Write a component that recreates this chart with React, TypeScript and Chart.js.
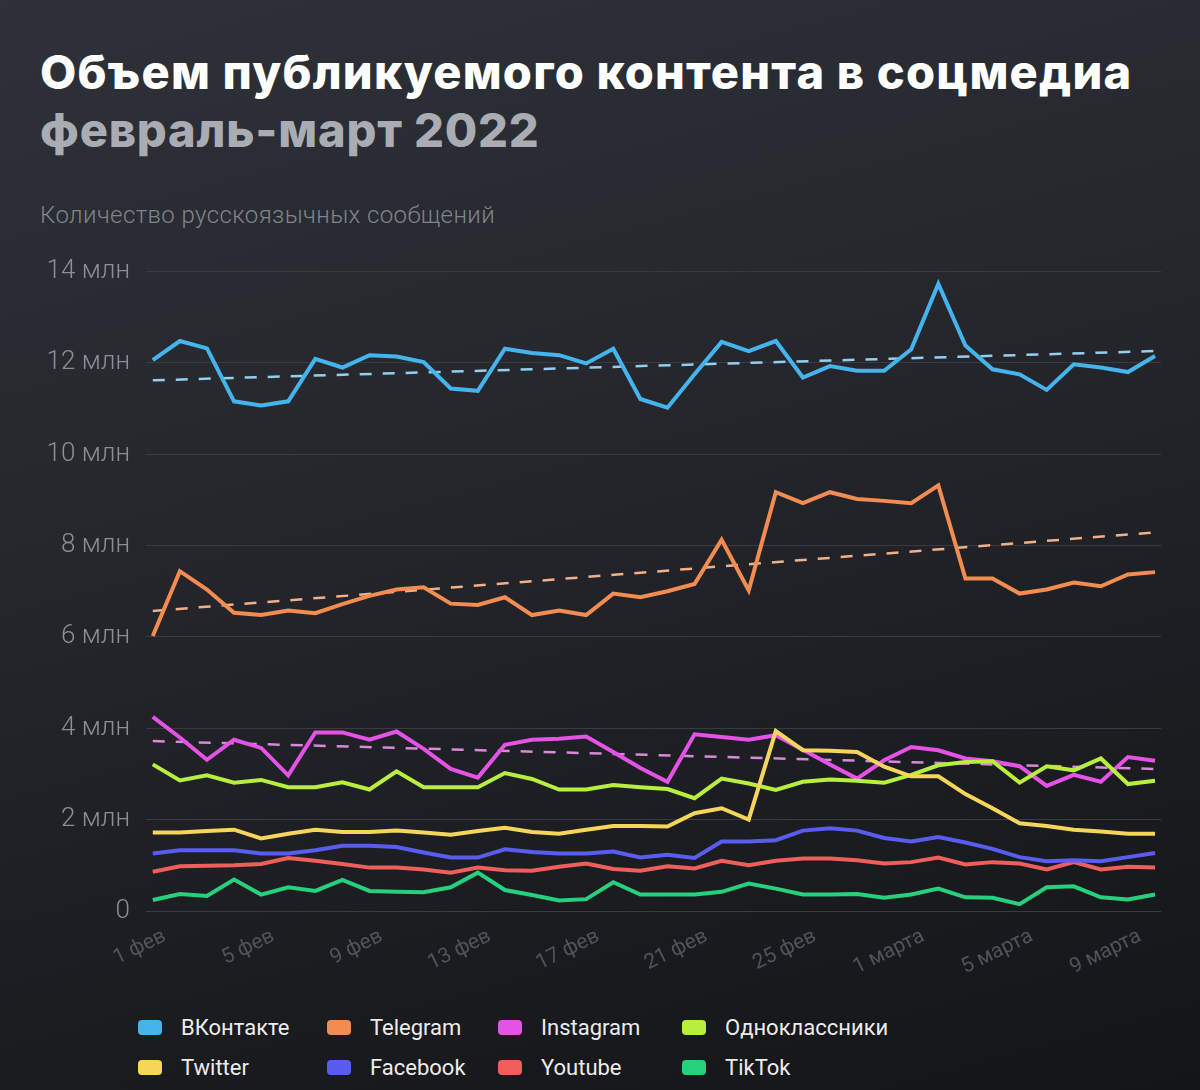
import React, { useEffect, useRef } from "react";
import { Chart, registerables } from "chart.js";

Chart.register(...registerables);

// ---- Data ----
const febDays = Array.from({ length: 28 }, (_, i) => `${i + 1} фев`);
const marDays = Array.from({ length: 10 }, (_, i) => `${i + 1} марта`);
const dateLabels: string[] = [...febDays, ...marDays];
const labelEvery = 4;
const yMax = 14;
const yStep = 2;

const vkontakte = [12.06, 12.48, 12.32, 11.16, 11.07, 11.16, 12.09, 11.9, 12.17, 12.14, 12.02, 11.44, 11.39, 12.31, 12.22, 12.17, 11.99, 12.31, 11.21, 11.02, 11.75, 12.46, 12.26, 12.48, 11.68, 11.93, 11.83, 11.83, 12.3, 13.73, 12.38, 11.86, 11.75, 11.41, 11.97, 11.9, 11.8, 12.15];
const telegram = [6.02, 7.44, 7.04, 6.53, 6.48, 6.58, 6.52, 6.72, 6.9, 7.04, 7.09, 6.73, 6.7, 6.87, 6.48, 6.58, 6.48, 6.95, 6.87, 7.0, 7.16, 8.13, 7.02, 9.17, 8.93, 9.17, 9.02, 8.98, 8.93, 9.32, 7.28, 7.28, 6.95, 7.04, 7.19, 7.11, 7.37, 7.42];
const instagram = [4.25, 3.8, 3.31, 3.75, 3.57, 2.97, 3.91, 3.91, 3.75, 3.93, 3.55, 3.11, 2.92, 3.64, 3.75, 3.77, 3.82, 3.48, 3.13, 2.83, 3.87, 3.81, 3.75, 3.85, 3.53, 3.21, 2.9, 3.3, 3.59, 3.52, 3.34, 3.28, 3.17, 2.74, 2.98, 2.83, 3.37, 3.29];
const odnoklassniki = [3.21, 2.86, 2.97, 2.81, 2.87, 2.71, 2.71, 2.82, 2.66, 3.06, 2.71, 2.71, 2.71, 3.02, 2.89, 2.66, 2.66, 2.76, 2.71, 2.67, 2.47, 2.9, 2.79, 2.65, 2.83, 2.88, 2.85, 2.81, 2.98, 3.19, 3.26, 3.28, 2.81, 3.17, 3.08, 3.34, 2.78, 2.85];
const twitter = [1.72, 1.72, 1.75, 1.78, 1.59, 1.69, 1.78, 1.73, 1.73, 1.76, 1.72, 1.67, 1.75, 1.82, 1.73, 1.69, 1.78, 1.86, 1.86, 1.85, 2.14, 2.25, 2.0, 3.94, 3.52, 3.51, 3.48, 3.16, 2.95, 2.95, 2.56, 2.25, 1.92, 1.86, 1.78, 1.74, 1.69, 1.69];
const facebook = [1.26, 1.33, 1.33, 1.33, 1.26, 1.26, 1.33, 1.43, 1.43, 1.4, 1.28, 1.17, 1.17, 1.35, 1.29, 1.26, 1.26, 1.3, 1.17, 1.23, 1.16, 1.52, 1.52, 1.55, 1.76, 1.81, 1.76, 1.6, 1.52, 1.62, 1.5, 1.36, 1.18, 1.09, 1.11, 1.09, 1.18, 1.27];
const youtube = [0.86, 0.98, 0.99, 1.0, 1.03, 1.16, 1.1, 1.03, 0.95, 0.95, 0.91, 0.84, 0.95, 0.89, 0.88, 0.97, 1.04, 0.92, 0.88, 0.98, 0.93, 1.1, 1.0, 1.1, 1.15, 1.15, 1.11, 1.04, 1.07, 1.17, 1.02, 1.07, 1.04, 0.91, 1.07, 0.91, 0.97, 0.95];
const tiktok = [0.24, 0.37, 0.33, 0.69, 0.36, 0.52, 0.44, 0.68, 0.44, 0.42, 0.41, 0.52, 0.84, 0.46, 0.35, 0.23, 0.26, 0.63, 0.36, 0.36, 0.36, 0.42, 0.6, 0.49, 0.36, 0.36, 0.37, 0.29, 0.36, 0.49, 0.3, 0.29, 0.15, 0.52, 0.54, 0.3, 0.25, 0.36];

// trend lines: [value at first day, value at last day]
const vkontakteTrend = [11.62, 12.26];
const telegramTrend = [6.57, 8.29];
const instagramTrend = [3.72, 3.11];

const seriesNames = ["ВКонтакте", "Telegram", "Instagram", "Одноклассники", "Twitter", "Facebook", "Youtube", "TikTok"];
const seriesColors = ["#45b4ec", "#f28c50", "#e452e6", "#b8ef3e", "#f6d65a", "#5a5cf0", "#ee5f5c", "#26d07c"];
const seriesValues = [vkontakte, telegram, instagram, odnoklassniki, twitter, facebook, youtube, tiktok];
const seriesOrder = [2, 2, 3, 2, 1, 2, 3, 2];

const trendColors = ["#93cfee", "#f1b088", "#d68ad8"];
const trendValues = [vkontakteTrend, telegramTrend, instagramTrend];

const FONT = "Roboto, 'Noto Sans', sans-serif";

export default function App() {
  const canvasRef = useRef<HTMLCanvasElement | null>(null);

  useEffect(() => {
    if (!canvasRef.current) return;
    const last = dateLabels.length - 1;
    const lineSets = seriesValues.map((vals, s) => ({
      label: seriesNames[s],
      data: vals.map((v, i) => ({ x: i, y: v })),
      borderColor: seriesColors[s],
      backgroundColor: seriesColors[s],
      borderWidth: 4,
      pointRadius: 0,
      tension: 0,
      fill: false,
      order: seriesOrder[s],
    }));
    const trendSets = trendValues.map((t, k) => ({
      label: seriesNames[k] + " тренд",
      data: [
        { x: 0, y: t[0] },
        { x: last, y: t[1] },
      ],
      borderColor: trendColors[k],
      borderWidth: 2.5,
      borderDash: [12, 11],
      pointRadius: 0,
      fill: false,
      order: 4,
    }));

    const tickIdx = dateLabels.map((_, i) => i).filter((i) => i % labelEvery === 0);

    const chart = new Chart(canvasRef.current, {
      type: "line",
      data: { datasets: [...lineSets, ...trendSets] as any },
      options: {
        animation: false,
        responsive: false,
        layout: { padding: { left: 0, right: 39, top: 23, bottom: 0 } },
        plugins: { legend: { display: false }, tooltip: { enabled: false } },
        scales: {
          x: {
            type: "linear",
            min: -0.25,
            max: last + 0.22,
            grid: { display: false },
            border: { display: false },
            afterBuildTicks: (scale: any) => {
              scale.ticks = tickIdx.map((v) => ({ value: v }));
            },
            afterFit: (scale: any) => {
              scale.height = 89;
            },
            ticks: {
              autoSkip: false,
              minRotation: 26,
              maxRotation: 26,
              padding: 5,
              labelOffset: 12,
              color: "#50535a",
              font: { family: FONT, size: 21 },
              callback: (v: any) => dateLabels[Math.round(Number(v))],
            },
          },
          y: {
            min: 0,
            max: yMax,
            afterFit: (scale: any) => {
              scale.width = 146;
            },
            grid: { color: "#393b41", lineWidth: 1, drawTicks: false },
            border: { display: false },
            ticks: {
              stepSize: yStep,
              padding: 16,
              color: "#8b8e95",
              font: { family: FONT, size: 26, weight: "300" as any },
              callback: (v: any) => (Number(v) === 0 ? "0" : `${v} млн`),
            },
          },
        },
      },
    });
    return () => chart.destroy();
  }, []);

  return (
    <div
      style={{
        position: "absolute",
        left: 0,
        top: 0,
        width: 1200,
        height: 1090,
        overflow: "hidden",
        background: "linear-gradient(165deg, #2e3138 0%, #25272d 40%, #1b1c20 75%, #141517 100%)",
        fontFamily: FONT,
      }}
    >
      <div
        style={{
          position: "absolute",
          left: 40,
          top: 43,
          fontFamily: "Inter, sans-serif",
          fontWeight: 800,
          fontSize: 47,
          lineHeight: "58px",
          whiteSpace: "nowrap",
          letterSpacing: 1.2,
        }}
      >
        <div style={{ color: "#ffffff" }}>Объем публикуемого контента в соцмедиа</div>
        <div style={{ color: "#a9acb3", letterSpacing: 0.8 }}>февраль-март 2022</div>
      </div>
      <div
        style={{
          position: "absolute",
          left: 40,
          top: 201,
          fontSize: 24,
          lineHeight: "28px",
          fontWeight: 300,
          letterSpacing: 0.4,
          color: "#81848b",
          whiteSpace: "nowrap",
        }}
      >
        Количество русскоязычных сообщений
      </div>
      <canvas
        ref={canvasRef}
        width={1200}
        height={760}
        style={{ position: "absolute", left: 0, top: 240, width: 1200, height: 760 }}
      />
      <div
        style={{
          position: "absolute",
          left: 138,
          top: 1013,
          display: "grid",
          gridTemplateColumns: "189px 171px 184px 220px",
          rowGap: 12,
        }}
      >
        {seriesNames.map((name, s) => (
          <div key={name} style={{ display: "flex", alignItems: "center", height: 28 }}>
            <span
              style={{
                display: "inline-block",
                width: 24,
                height: 15,
                borderRadius: 4,
                background: seriesColors[s],
                marginRight: 19,
              }}
            />
            <span style={{ color: "#ececee", fontSize: 22, whiteSpace: "nowrap" }}>{name}</span>
          </div>
        ))}
      </div>
    </div>
  );
}
